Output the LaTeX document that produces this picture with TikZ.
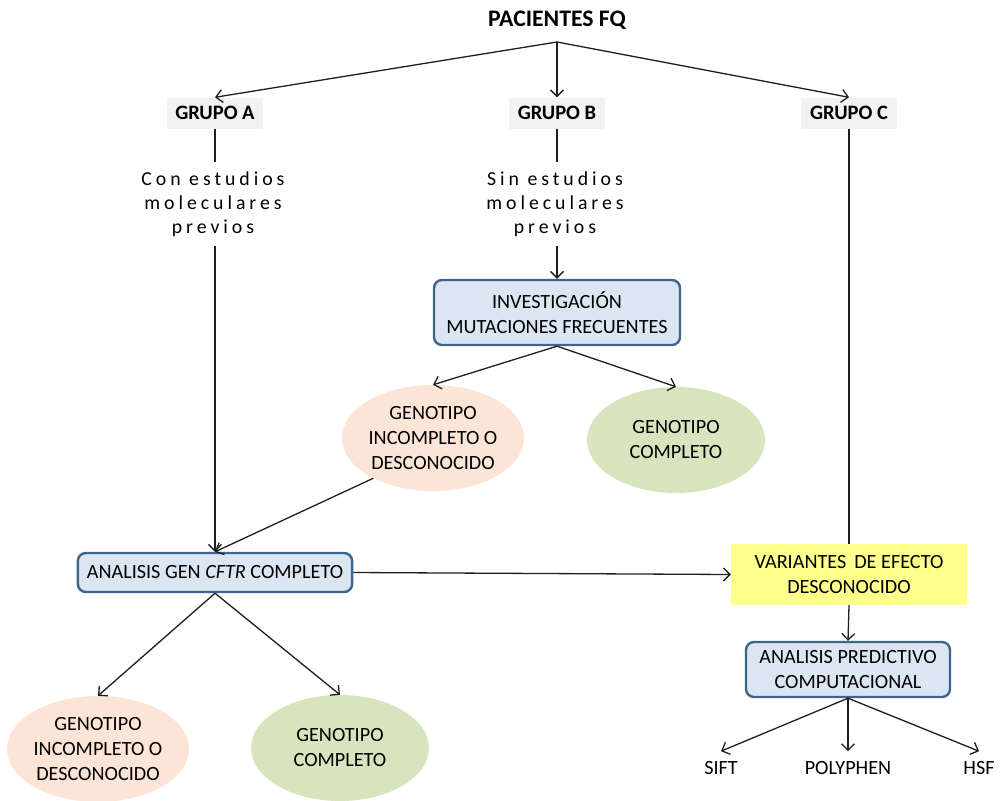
\documentclass[tikz,border=0pt]{standalone}
\usepackage{fontspec}
\setmainfont{Carlito}
\newfontfamily\spacedfont[LetterSpace=20]{Carlito}
\usetikzlibrary{arrows.meta,shapes.geometric}
\definecolor{boxfill}{HTML}{DCE6F2}
\definecolor{boxline}{HTML}{3F6490}
\definecolor{peach}{HTML}{FCE5D6}
\definecolor{sage}{HTML}{D8E4BD}
\definecolor{lemon}{HTML}{FFFF8C}
\definecolor{tag}{HTML}{F2F2F2}
\definecolor{ink}{HTML}{1E1E1E}
\begin{document}
\begin{tikzpicture}[x=1pt,y=-1pt,
  every node/.style={font=\fontsize{20.2}{25}\selectfont, text=black},
  title/.style={font=\fontsize{23.7}{28}\selectfont\bfseries},
  grp/.style={fill=tag, font=\fontsize{20.5}{25}\selectfont\bfseries, minimum width=96pt, minimum height=31pt, inner sep=0pt},
  note/.style={align=center, font=\fontsize{19.8}{24}\selectfont\spacedfont, inner xsep=0pt, inner ysep=9pt},
  stepbox/.style={draw=boxline, line width=2.4pt, fill=boxfill, rounded corners=8pt, align=center, inner xsep=9pt, inner ysep=4pt},
  blob/.style={ellipse, align=center, minimum width=178pt, minimum height=106pt, inner sep=0pt},
  flag/.style={fill=lemon, align=center, minimum width=236pt, minimum height=61pt, inner sep=0pt},
  tool/.style={inner xsep=2pt, inner ysep=10pt},
  link/.style={draw=ink, line width=1.3pt},
  arr/.style={link, -{Straight Barb[length=6.5pt,width=13pt]}}
]
\useasboundingbox (0,0) rectangle (1000,800);

% top of the tree
\node[title] (pac) at (557,20) {PACIENTES FQ};
\coordinate (fork) at (557,42);
\node[grp] (ga) at (215,113) {GRUPO A};
\node[grp] (gb) at (557,113) {GRUPO B};
\node[grp] (gc) at (849,113) {GRUPO C};
\draw[arr] (fork) -- (ga.north);
\draw[arr] (fork) -- (gb.north);
\draw[arr] (fork) -- (gc.north);

% group descriptions (the letter spacing leaves a trailing gap, hence the text shift)
\node[note] (ta) at (215,204) {\hspace*{-4pt}Con estudios\\\hspace*{-4pt}moleculares\\\hspace*{-4pt}previos};
\node[note] (tb) at (557,204) {\hspace*{-4pt}Sin estudios\\\hspace*{-4pt}moleculares\\\hspace*{-4pt}previos};
\draw[link] (ga.south) -- (ta.north);
\draw[link] (gb.south) -- (tb.north);

% group B branch
\node[stepbox, minimum width=246pt, minimum height=65pt] (inv) at (557,312.5) {INVESTIGACIÓN\\MUTACIONES FRECUENTES};
\draw[arr] (tb.south) -- (inv.north);
\node[blob, fill=peach] (e1) at (433,438) {GENOTIPO\\INCOMPLETO O\\DESCONOCIDO};
\node[blob, fill=sage] (e2) at (676,440) {GENOTIPO\\COMPLETO};
\draw[arr] (inv.south) -- (e1.north);
\draw[arr] (inv.south) -- (e2.north);

% full gene analysis
\node[stepbox, minimum height=39pt] (an) at (215,572.5) {ANALISIS GEN \textit{CFTR} COMPLETO};
\draw[arr] (ta.south) -- (an.north);
\draw[arr] (e1.214) -- (an.north);
\node[blob, fill=peach] (e3) at (98,749) {GENOTIPO\\INCOMPLETO O\\DESCONOCIDO};
\node[blob, fill=sage] (e4) at (340,748) {GENOTIPO\\COMPLETO};
\draw[arr] (an.south) -- (e3.north);
\draw[arr] (an.south) -- (e4.north);

% group C branch
\node[flag] (var) at (849,574.5) {VARIANTES\hspace{8pt}DE EFECTO\\DESCONOCIDO};
\draw[link] (gc.south) -- (var.north);
\draw[arr] (an.east) -- (var.west);
\node[stepbox, minimum width=204pt, minimum height=55pt] (ap) at (848,669.5) {ANALISIS PREDICTIVO\\COMPUTACIONAL};
\draw[arr] (var.south) -- (ap.north);
\node[tool] (sift) at (721,768) {SIFT};
\node[tool] (poly) at (848,768) {POLYPHEN};
\node[tool] (hsf) at (979,768) {HSF};
\draw[arr] (ap.south) -- (sift.north);
\draw[arr] (ap.south) -- (poly.north);
\draw[arr] (ap.south) -- (hsf.north);
\end{tikzpicture}
\end{document}
